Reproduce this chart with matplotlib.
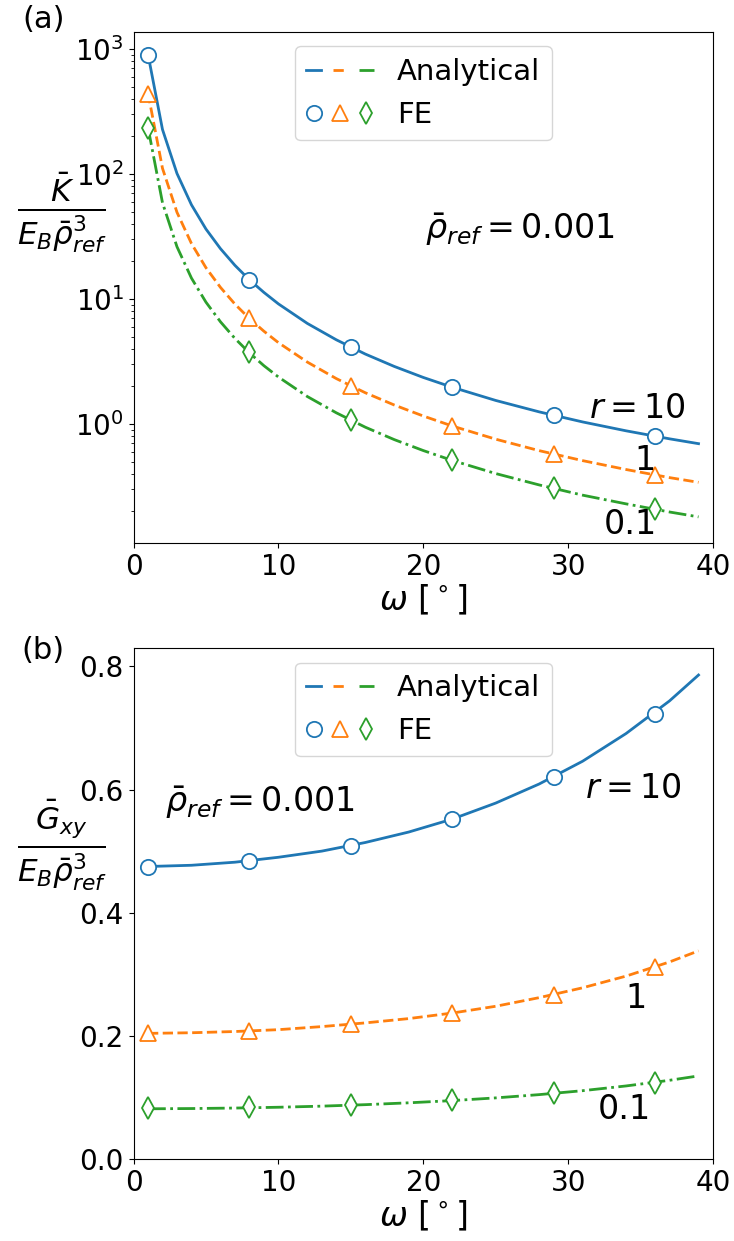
import matplotlib
matplotlib.use("Agg")
import matplotlib.pyplot as plt
from matplotlib.legend_handler import HandlerTuple
from matplotlib.lines import Line2D

# analytical curves, panel (a): normalised bulk modulus (log scale)
w_a = [1, 2, 3, 4, 5, 6, 7, 8, 9, 10, 12, 14, 16, 18, 20, 22, 25, 28, 31, 34, 37, 39]
k_r10 = [906, 227, 101, 56.7, 36.3, 25.3, 18.6, 14.25, 11.3, 9.15, 6.38, 4.72, 3.63,
         2.89, 2.36, 1.97, 1.545, 1.252, 1.040, 0.883, 0.762, 0.697]
k_r1 = [444, 111, 49.4, 27.8, 17.8, 12.4, 9.11, 6.98, 5.53, 4.48, 3.13, 2.31, 1.78,
        1.42, 1.16, 0.965, 0.757, 0.613, 0.510, 0.433, 0.373, 0.342]
k_r01 = [236, 58.9, 26.2, 14.7, 9.44, 6.58, 4.84, 3.71, 2.93, 2.38, 1.66, 1.23, 0.944,
         0.751, 0.614, 0.512, 0.402, 0.326, 0.270, 0.230, 0.198, 0.181]

# analytical curves, panel (b): normalised shear modulus
w_b = [1, 4, 7, 10, 13, 16, 19, 22, 25, 28, 31, 34, 37, 39]
g_r10 = [0.475, 0.477, 0.482, 0.490, 0.500, 0.514, 0.531, 0.552, 0.578, 0.609, 0.646,
         0.691, 0.744, 0.786]
g_r1 = [0.204, 0.205, 0.207, 0.210, 0.215, 0.221, 0.228, 0.237, 0.248, 0.262, 0.278,
        0.297, 0.320, 0.338]
g_r01 = [0.0815, 0.0819, 0.0827, 0.0840, 0.0858, 0.0882, 0.0912, 0.0948, 0.0992,
         0.1045, 0.1109, 0.1186, 0.1278, 0.1349]

# FE results
w_fe = [1, 8, 15, 22, 29, 36]
kfe_r10 = [900, 14.3, 4.1, 1.97, 1.18, 0.80]
kfe_r1 = [440, 7.0, 2.0, 0.97, 0.58, 0.39]
kfe_r01 = [235, 3.8, 1.08, 0.52, 0.31, 0.21]
gfe_r10 = [0.475, 0.484, 0.508, 0.552, 0.620, 0.723]
gfe_r1 = [0.204, 0.208, 0.219, 0.237, 0.267, 0.311]
gfe_r01 = [0.082, 0.084, 0.088, 0.095, 0.107, 0.124]

cols = ["C0", "C1", "C2"]
styles = ["-", "--", "-."]
marks = ["o", "^", "d"]

fig = plt.figure(figsize=(7.34, 12.41), dpi=100)
ax1 = fig.add_axes([0.1819, 0.5625, 0.7895, 0.4118])
ax2 = fig.add_axes([0.1819, 0.0661, 0.7895, 0.4118])


def draw(ax, curves, fe):
    for i in range(3):
        ax.plot(curves[0], curves[i + 1], styles[i], color=cols[i], lw=2)
        ax.plot(w_fe, fe[i], marks[i], color=cols[i], mfc="white", ms=11, mew=1.3,
                ls="none")
    ana = tuple(Line2D([], [], color=cols[i], ls=styles[i], lw=2) for i in range(3))
    fes = tuple(Line2D([], [], color=cols[i], marker=marks[i], mfc="white", ms=11,
                       mew=1.3, ls="none") for i in range(3))
    ax.legend([ana, fes], ["Analytical", "FE"], loc="upper center", fontsize=21,
              handler_map={tuple: HandlerTuple(ndivide=None)}, handlelength=2.3)
    ax.set_xlim(0, 40)
    ax.set_xlabel(r"$\omega\ [^\circ]$", fontsize=24, labelpad=2)
    ax.tick_params(labelsize=20)


draw(ax1, [w_a, k_r10, k_r1, k_r01], [kfe_r10, kfe_r1, kfe_r01])
ax1.set_yscale("log")
ax1.set_ylim(0.112, 1370)
ax1.set_ylabel(r"$\frac{\bar{K}}{E_B\bar{\rho}_{ref}^3}$", fontsize=32, rotation=0,
               ha="center", va="center")
ax1.yaxis.set_label_coords(-0.123, 0.646)
ax1.text(34.8, 1.34, r"$r=10$", fontsize=24, ha="center", va="center")
ax1.text(35.3, 0.515, "1", fontsize=24, ha="center", va="center")
ax1.text(34.3, 0.156, "0.1", fontsize=24, ha="center", va="center")
ax1.text(26.7, 35.6, r"$\bar{\rho}_{ref}=0.001$", fontsize=24, ha="center", va="center")

draw(ax2, [w_b, g_r10, g_r1, g_r01], [gfe_r10, gfe_r1, gfe_r01])
ax2.set_ylim(0, 0.83)
ax2.set_yticks([0.0, 0.2, 0.4, 0.6, 0.8])
ax2.set_ylabel(r"$\frac{\bar{G}_{xy}}{E_B\bar{\rho}_{ref}^3}$", fontsize=32, rotation=0,
               ha="center", va="center")
ax2.yaxis.set_label_coords(-0.123, 0.614)
ax2.text(34.5, 0.601, r"$r=10$", fontsize=24, ha="center", va="center")
ax2.text(34.7, 0.261, "1", fontsize=24, ha="center", va="center")
ax2.text(33.9, 0.080, "0.1", fontsize=24, ha="center", va="center")
ax2.text(8.7, 0.578, r"$\bar{\rho}_{ref}=0.001$", fontsize=24, ha="center", va="center")

fig.text(0.059, 0.984, "(a)", fontsize=22, ha="center", va="center")
fig.text(0.059, 0.476, "(b)", fontsize=22, ha="center", va="center")

fig.savefig("out.png", dpi=100)
